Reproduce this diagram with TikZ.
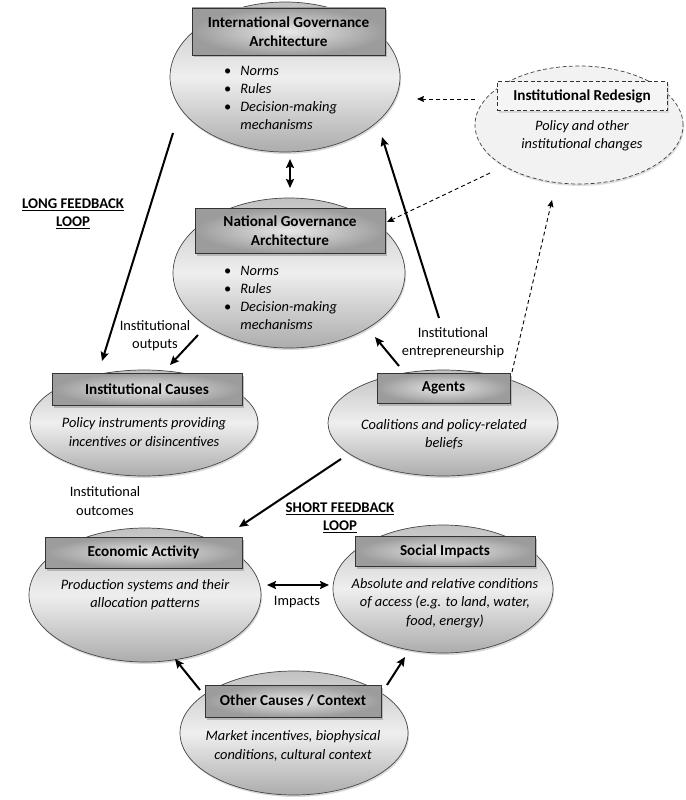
\documentclass[tikz,border=0pt]{standalone}
\usepackage{fontspec}
\setmainfont{Carlito}
\usetikzlibrary{shapes.geometric,shadows,arrows.meta}
\begin{document}
\begin{tikzpicture}[x=1pt,y=-1pt,
  font=\fontsize{14.4}{18.3}\selectfont,
  ell/.style={ellipse, draw=gray!55!black, line width=0.7pt, inner sep=0pt,
    top color=gray!48, bottom color=gray!65, middle color=gray!13,
    drop shadow={shadow xshift=1pt, shadow yshift=-2pt, opacity=0.3}},
  dell/.style={ellipse, draw=gray!50!black, line width=0.7pt, inner sep=0pt,
    dash pattern=on 4pt off 2.5pt, fill=gray!10,
    drop shadow={shadow xshift=1pt, shadow yshift=-2pt, opacity=0.25}},
  hdr/.style={rectangle, draw=gray!40!black, line width=0.6pt, inner sep=0pt,
    inner color=gray!18, outer color=gray!78, align=center,
    font=\fontsize{15.2}{18.5}\selectfont\bfseries,
    drop shadow={shadow xshift=2pt, shadow yshift=-2.5pt, fill=gray!70, opacity=0.7}},
  dhdr/.style={rectangle, draw=gray!40!black, line width=0.7pt, inner sep=0pt,
    dash pattern=on 4pt off 2.5pt, fill=gray!8, align=center,
    font=\fontsize{15.2}{18.5}\selectfont\bfseries,
    drop shadow={shadow xshift=1.5pt, shadow yshift=-2pt, fill=gray!50, opacity=0.5}},
  desc/.style={align=center, inner sep=0pt, font=\fontsize{14.4}{18.3}\selectfont\itshape},
  lbl/.style={align=center, inner sep=0pt},
  looplbl/.style={align=center, inner sep=0pt, font=\fontsize{14.8}{18.3}\selectfont\bfseries},
  blist/.style={anchor=north west, inner sep=0pt},
  arr/.style={line width=2pt, -{Stealth[length=9pt,width=8pt,inset=1.5pt]}},
  darr/.style={line width=2pt, {Stealth[length=9pt,width=8pt,inset=1.5pt]}-{Stealth[length=9pt,width=8pt,inset=1.5pt]}},
  dsh/.style={line width=0.9pt, dash pattern=on 4pt off 3pt, -{Stealth[length=7pt,width=6pt,inset=1pt]}},
]
\useasboundingbox (0,0) rectangle (685,800);

% ---------- ellipses ----------
\node[ell, minimum width=230pt, minimum height=150pt] (intlE) at (285,77) {};
\node[dell, minimum width=208pt, minimum height=118pt] (redE) at (579,125) {};
\node[ell, minimum width=232pt, minimum height=150pt] (natE) at (289,273) {};
\node[ell, minimum width=228pt, minimum height=106pt] (icE) at (144,423) {};
\node[ell, minimum width=230pt, minimum height=106pt] (agE) at (443,423) {};
\node[ell, minimum width=232pt, minimum height=134pt] (ecE) at (145,595) {};
\node[ell, minimum width=220pt, minimum height=128pt] (soE) at (443,589) {};
\node[ell, minimum width=228pt, minimum height=124pt] (otE) at (294,733) {};

% ---------- header boxes ----------
\node[hdr, minimum width=193pt, minimum height=47pt] (intlH) at (288.5,31.5) {International Governance\\Architecture};
\node[dhdr, minimum width=170pt, minimum height=29pt] (redH) at (582,96) {Institutional Redesign};
\node[hdr, minimum width=190pt, minimum height=45pt] (natH) at (290,230.5) {National Governance\\Architecture};
\node[hdr, minimum width=190pt, minimum height=32pt] (icH) at (147,389) {Institutional Causes};
\node[hdr, minimum width=133pt, minimum height=30pt] (agH) at (443.5,388) {Agents};
\node[hdr, minimum width=197pt, minimum height=31pt] (ecH) at (143.5,552.5) {Economic Activity};
\node[hdr, minimum width=180pt, minimum height=30pt] (soH) at (445,551) {Social Impacts};
\node[hdr, minimum width=176pt, minimum height=32pt] (otH) at (293,701) {Other Causes / Context};

% ---------- contents ----------
\node[blist] (intlL) at (224,62) {\begin{tabular}{@{}l@{\hspace{9pt}}l@{}}
\textbullet & \textit{Norms}\\
\textbullet & \textit{Rules}\\
\textbullet & \textit{Decision-making}\\
 & \textit{mechanisms}
\end{tabular}};
\node[blist] (natL) at (224,262) {\begin{tabular}{@{}l@{\hspace{9pt}}l@{}}
\textbullet & \textit{Norms}\\
\textbullet & \textit{Rules}\\
\textbullet & \textit{Decision-making}\\
 & \textit{mechanisms}
\end{tabular}};
\node[desc] (redT) at (582,136) {Policy and other\\institutional changes};
\node[desc] (icT) at (144,432) {Policy instruments providing\\incentives or disincentives};
\node[desc] (agT) at (444,434) {Coalitions and policy-related\\beliefs};
\node[desc] (ecT) at (145,595) {Production systems and their\\allocation patterns};
\node[desc] (soT) at (445,603) {Absolute and relative conditions\\of access (e.g. to land, water,\\food, energy)};
\node[desc] (otT) at (293,746) {Market incentives, biophysical\\conditions, cultural context};

% ---------- free labels ----------
\node[looplbl] (longL) at (73,214) {\underline{LONG FEEDBACK}\\\underline{LOOP}};
\node[looplbl] (shortL) at (340,518) {\underline{SHORT FEEDBACK}\\\underline{LOOP}};
\node[lbl] (outL) at (155,336) {Institutional\\outputs};
\node[lbl] (entL) at (453,343) {Institutional\\entrepreneurship};
\node[lbl] (outcL) at (105,501) {Institutional\\outcomes};
\node[lbl] (impL) at (297,602) {Impacts};

% ---------- connector end points ----------
\coordinate (lfS) at (173,133);  \coordinate (lfE) at (102,361);
\coordinate (inS) at (290,159);  \coordinate (natT) at (290,188);
\coordinate (ioS) at (198,335);  \coordinate (ioE) at (170,365);
\coordinate (anS) at (399,366);  \coordinate (anE) at (375,337);
\coordinate (aiS) at (439,318);  \coordinate (aiE) at (382,137);
\coordinate (sfS) at (341,459);  \coordinate (sfE) at (239,527);
\coordinate (ecR) at (267,585);  \coordinate (soL) at (329,585);
\coordinate (oeS) at (200,690);  \coordinate (oeE) at (175,659);
\coordinate (osS) at (387,685);  \coordinate (osE) at (405,657);
\coordinate (riS) at (475,99);   \coordinate (riE) at (417,99);
\coordinate (rnS) at (490,173);  \coordinate (rnE) at (387,222);
\coordinate (arS) at (512,372);  \coordinate (arE) at (552,200);

% ---------- connectors ----------
\draw[arr] (lfS) -- (lfE);
\draw[darr] (inS) -- (natT);
\draw[arr] (ioS) -- (ioE);
\draw[arr] (anS) -- (anE);
\draw[arr] (aiS) -- (aiE);
\draw[arr] (sfS) -- (sfE);
\draw[darr] (ecR) -- (soL);
\draw[arr] (oeS) -- (oeE);
\draw[arr] (osS) -- (osE);
\draw[dsh] (riS) -- (riE);
\draw[dsh] (rnS) -- (rnE);
\draw[dsh] (arS) -- (arE);
\end{tikzpicture}
\end{document}
